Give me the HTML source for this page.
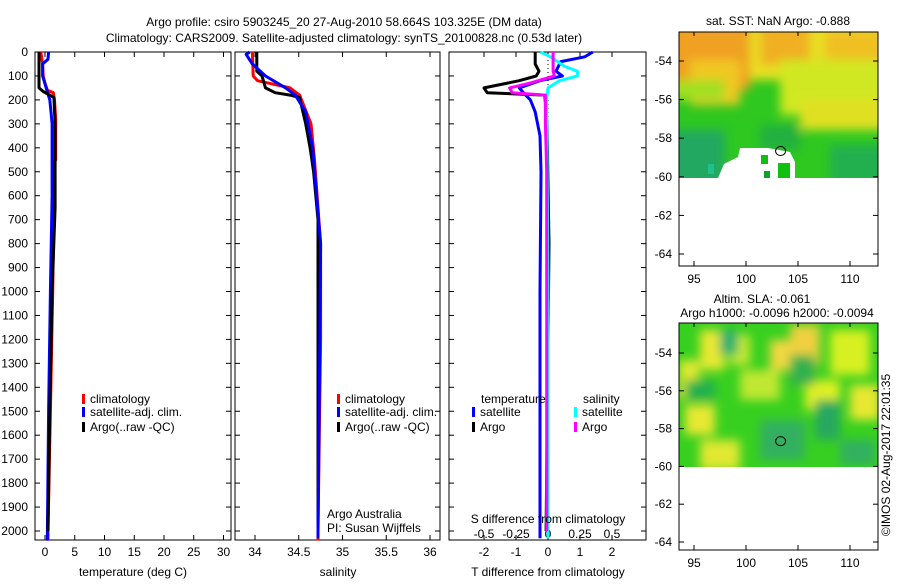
<!DOCTYPE html>
<html><head><meta charset="utf-8"><style>
body{margin:0;background:#fff;width:900px;height:580px;overflow:hidden;font-family:"Liberation Sans",sans-serif}
svg text{font-family:"Liberation Sans",sans-serif;font-size:12px;fill:#000}
</style></head><body>
<svg id="c" width="900" height="580" xmlns="http://www.w3.org/2000/svg">
<defs>
<filter id="bl" x="-20%" y="-20%" width="140%" height="140%"><feGaussianBlur stdDeviation="5"/></filter>
<clipPath id="m1c"><rect x="679" y="32" width="199" height="146"/></clipPath>
<clipPath id="m2c"><rect x="679" y="323" width="199" height="144"/></clipPath>
</defs>
<text x="344" y="26" text-anchor="middle">Argo profile: csiro 5903245_20 27-Aug-2010 58.664S 103.325E (DM data)</text>
<text x="344" y="42" text-anchor="middle">Climatology: CARS2009. Satellite-adjusted climatology: synTS_20100828.nc (0.53d later)</text>
<g id="maps"></g>
<g id="plots"></g>
</svg>
<script>
// ---- data ----
const depthTicks=[0,100,200,300,400,500,600,700,800,900,1000,1100,1200,1300,1400,1500,1600,1700,1800,1900,2000];
const tempTicks=[0,5,10,15,20,25,30];
const salTicks=[34,34.5,35,35.5,36];
const salTickLabels=["34","34.5","35","35.5","36"];
const tdTicks=[-2,-1,0,1,2];
const tdTickLabels=["-2","-1","0","1","2"];
const sdTicks=[-0.5,-0.25,0,0.25,0.5];
const sdTickLabels=["-0.5","-0.25","0","0.25","0.5"];

const tClimD=[0,50,100,130,160,170,200,280,450,460,1000,1500,2000,2040];
const tClimV=[-0.7,-0.4,-0.3,0.0,0.4,1.4,1.6,1.8,1.8,1.6,1.3,0.9,0.5,0.5];
const tSatD=[0,30,50,100,150,200,250,300,600,1000,1500,2000,2040];
const tSatV=[0.6,0.5,-0.4,-0.4,0.2,0.8,1.0,1.2,1.2,0.9,0.6,0.4,0.4];
const tArgoD=[0,150,165,180,190,300,650,1000,1500,2000];
const tArgoV=[-1.0,-1.0,-0.3,0.8,1.5,1.7,1.7,1.2,0.8,0.5];

const sClimD=[0,100,120,150,180,300,450,800,1200,2000,2040];
const sClimV=[33.97,33.98,34.03,34.4,34.51,34.64,34.68,34.75,34.75,34.72,34.72];
const sSatD=[0,10,50,100,150,180,250,400,800,1200,2000,2030];
const sSatV=[33.94,33.9,33.97,34.12,34.35,34.46,34.58,34.66,34.75,34.74,34.72,34.72];
const sArgoD=[0,80,100,150,170,180,190,300,400,500,700,2000];
const sArgoV=[34.02,34.02,34.08,34.12,34.23,34.4,34.51,34.58,34.63,34.67,34.72,34.72];

const tdSatD=[0,20,40,80,100,120,150,180,200,250,350,500,1000,2000,2030];
const tdSatV=[1.4,1.15,0.4,0.25,0.45,-0.25,-0.9,-0.7,-0.55,-0.4,-0.25,-0.22,-0.25,-0.25,-0.25];
const tdArgoD=[0,50,80,100,120,150,170,180,300,800,2000];
const tdArgoV=[-0.4,-0.4,-0.28,-0.37,-0.9,-2.0,-1.9,-0.1,-0.03,0.03,-0.06];
const sdSatD=[0,20,60,80,100,120,150,200,1000,2000,2030];
const sdSatV=[-0.06,0.02,0.13,0.23,0.23,0.09,0.0,-0.01,0.0,0.0,0.0];
const sdArgoD=[0,80,100,130,150,170,180,300,500,2000];
const sdArgoV=[0.04,0.04,0.05,-0.14,-0.3,-0.28,-0.02,-0.02,-0.01,-0.01];

// ---- geometry ----
const Y0=52, KY=0.2395; const yD=d=>Y0+d*KY;
const xT=t=>45+5.95*t;
const xS=s=>255+87.5*(s-34);
const xTD=t=>548+32*t;
const xSD=s=>548+128*s;
const NS="http://www.w3.org/2000/svg";
const plots=document.getElementById('plots');
function el(tag,attrs,parent){const e=document.createElementNS(NS,tag);for(const k in attrs)e.setAttribute(k,attrs[k]);(parent||plots).appendChild(e);return e;}
function txt(x,y,s,anchor,parent){const t=el('text',{x:x,y:y,'text-anchor':anchor||'start'},parent);t.textContent=s;return t;}

function panel(x0,x1,name){
  const r=el('rect',{x:x0,y:Y0,width:x1-x0,height:488,fill:'none',stroke:'#000','stroke-width':1});
  
  
  depthTicks.forEach(d=>{
    el('line',{x1:x0,x2:x0+5,y1:yD(d),y2:yD(d),stroke:'#000'});
    el('line',{x1:x1-5,x2:x1,y1:yD(d),y2:yD(d),stroke:'#000'});
  });
}
function xticks(ticks,labels,fx,x0,x1,ly,name){
  ticks.forEach((v,i)=>{
    const x=fx(v); if(x<x0-1||x>x1+1)return;
    el('line',{x1:x,x2:x,y1:Y0,y2:Y0+5,stroke:'#000'});
    el('line',{x1:x,x2:x,y1:540-5,y2:540,stroke:'#000'});
    if(labels){const t=txt(x,ly,labels[i],'middle');
      
      }
  });
}
function line(D,V,fx,color,name,w){
  const p=el('polyline',{points:D.map((d,i)=>fx(V[i]).toFixed(1)+','+yD(d).toFixed(1)).join(' '),fill:'none',stroke:color,'stroke-width':w||3,'stroke-linejoin':'round'});
  
  
}
depthTicks.forEach(d=>{const t=txt(28,yD(d)+4,String(d),'end');
  
  });

// panel 1
panel(35,231,'temperature-panel');
xticks(tempTicks,tempTicks.map(String),xT,35,231,556,'temperature');
line(tClimD,tClimV,xT,'#f00','temperature-climatology-line');
line(tSatD,tSatV,xT,'#00f','temperature-satellite-line');
line(tArgoD,tArgoV,xT,'#000','temperature-argo-line');
txt(133,576,'temperature (deg C)','middle');

// panel 2
panel(235,440,'salinity-panel');
xticks(salTicks,salTickLabels,xS,235,440,556,'salinity');
line(sClimD,sClimV,xS,'#f00','salinity-climatology-line');
line(sArgoD,sArgoV,xS,'#000','salinity-argo-line');
line(sSatD,sSatV,xS,'#00f','salinity-satellite-line');
txt(338,576,'salinity','middle');
txt(327,518,'Argo Australia');txt(327,532,'PI: Susan Wijffels');

// panel 3
panel(449,646,'difference-panel');
xticks(tdTicks,tdTickLabels,xTD,449,646,556,'t-diff');
sdTicks.forEach((v,i)=>{const t=txt(xSD(v),538,sdTickLabels[i],'middle');
  
  });
el('line',{x1:548,x2:548,y1:Y0,y2:540,stroke:'#000','stroke-dasharray':'1,3'});
line(tdArgoD,tdArgoV,xTD,'#000','t-diff-argo-line');
line(tdSatD,tdSatV,xTD,'#00f','t-diff-satellite-line');
line(sdSatD,sdSatV,xSD,'#0ff','s-diff-satellite-line');
line(sdArgoD,sdArgoV,xSD,'#f0f','s-diff-argo-line');
txt(548,523,'S difference from climatology','middle');
txt(548,576,'T difference from climatology','middle');

function leg(x,y,color,label,name){
  const r=el('rect',{x:x,y:y-9,width:3,height:10,fill:color});
  
  
  const t=txt(x+8,y,label);
  
  
}
leg(82,403,'#f00','climatology','legend-climatology');
leg(82,416,'#00f','satellite-adj. clim.','legend-satellite');
leg(82,431,'#000','Argo(..raw -QC)','legend-argo');
leg(337,403,'#f00','climatology','legend2-climatology');
leg(337,416,'#00f','satellite-adj. clim.','legend2-satellite');
leg(337,431,'#000','Argo(..raw -QC)','legend2-argo');
txt(481,403,'temperature');txt(583,403,'salinity');
leg(472,416,'#00f','satellite','legend-t-satellite');
leg(472,431,'#000','Argo','legend-t-argo');
leg(574,416,'#0ff','satellite','legend-s-satellite');
leg(574,431,'#f0f','Argo','legend-s-argo');

// ---- maps ----
const maps=document.getElementById('maps');
const lonTicks=[95,100,105,110];
const latTicks=[-54,-56,-58,-60,-62,-64];
const floatLon=103.325, floatLat=-58.664;
const xL=l=>694+10.4*(l-95);
function mapFrame(y0,y1,yLat,name){
  const r=el('rect',{x:679,y:y0,width:199,height:y1-y0,fill:'none',stroke:'#000'},maps);
  
  
  lonTicks.forEach(l=>{el('line',{x1:xL(l),x2:xL(l),y1:y1-5,y2:y1,stroke:'#000'},maps);
    el('line',{x1:xL(l),x2:xL(l),y1:y0,y2:y0+4,stroke:'#000'},maps);
    txt(xL(l),y1+17,String(l),'middle',maps);});
  latTicks.forEach(a=>{el('line',{x1:679,x2:684,y1:yLat(a),y2:yLat(a),stroke:'#000'},maps);
    el('line',{x1:873,x2:878,y1:yLat(a),y2:yLat(a),stroke:'#000'},maps);
    txt(672,yLat(a)+4,String(a),'end',maps);});
  const c=el('ellipse',{cx:xL(floatLon),cy:yLat(floatLat),rx:5,ry:4.5,fill:'none',stroke:'#000'},maps);
  
  
}
const yA1=a=>61+19.3*(-54-a);
const yA2=a=>353+18.9*(-54-a);
let g1=el('g',{'clip-path':'url(#m1c)'},maps);
el('rect',{x:679,y:32,width:199,height:146,fill:'#2ec820'},g1);
let b1=el('g',{filter:'url(#bl)'},g1);
[[670,20,220,60,'#e8e020'],[670,20,80,70,'#f0a020'],[760,25,50,40,'#f0b020'],[825,30,60,90,'#f0c020'],[850,60,40,50,'#f0a820'],
 [690,60,50,45,'#f0c820'],[780,60,110,55,'#d0e820'],[665,80,60,20,'#a0e020'],[800,100,90,30,'#e0e020'],[670,130,55,55,'#20a860'],[830,145,60,40,'#20b050'],[760,125,40,25,'#20b040']].forEach(r=>
  el('rect',{x:r[0],y:r[1],width:r[2],height:r[3],fill:r[4]},b1));
el('polygon',{points:'718,178 724,164 738,157 740,148 768,148 790,152 795,162 795,178',fill:'#fff'},g1);
el('rect',{x:708,y:164,width:6,height:10,fill:'#20c090'},g1);
el('rect',{x:761,y:155,width:7,height:9,fill:'#10c010'},g1);
el('rect',{x:764,y:171,width:6,height:7,fill:'#10a030'},g1);
el('rect',{x:778,y:163,width:12,height:15,fill:'#10c010'},g1);
mapFrame(32,266,yA1,'sst-map');
txt(778,25,'sat. SST: NaN Argo: -0.888','middle',maps);
let g2=el('g',{'clip-path':'url(#m2c)'},maps);
el('rect',{x:679,y:323,width:199,height:144,fill:'#38d020'},g2);
let b2=el('g',{filter:'url(#bl)'},g2);
[[700,330,25,40,'#e8e830'],[730,335,20,30,'#c8e830'],[770,340,30,30,'#f0d840'],[790,325,30,40,'#f0d040'],[830,330,40,45,'#d8f020'],
 [679,360,20,40,'#e0e830'],[740,370,40,30,'#c0e830'],[805,380,35,30,'#e0f020'],[850,385,30,35,'#e8e830'],[685,405,30,30,'#e8e830'],[700,440,40,30,'#e0e830'],
 [720,330,18,25,'#20b070'],[815,400,25,40,'#28a860'],[840,440,35,25,'#30b060'],[760,420,45,40,'#30b060'],[685,380,30,20,'#20b050'],[790,355,25,30,'#30b050']].forEach(r=>
  el('rect',{x:r[0],y:r[1],width:r[2],height:r[3],fill:r[4]},b2));
mapFrame(323,550,yA2,'sla-map');
txt(762,303,'Altim. SLA: -0.061','middle',maps);
txt(777,317,'Argo h1000: -0.0096 h2000: -0.0094','middle',maps);
const st=txt(0,0,'©IMOS 02-Aug-2017 22:01:35','middle',maps);
st.setAttribute('transform','translate(890,455) rotate(-90)');


</script>
</body></html>
